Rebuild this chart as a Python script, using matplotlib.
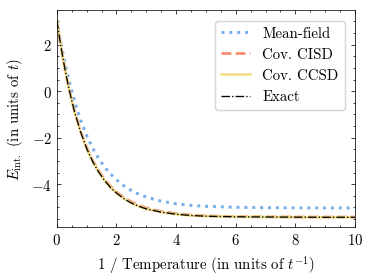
import matplotlib

matplotlib.use("Agg")
import matplotlib.pyplot as plt
import numpy as np

# inverse temperature grid (units of 1/t)
beta = [0.0, 0.1, 0.2, 0.3, 0.4, 0.5, 0.6, 0.8, 1.0, 1.2, 1.4, 1.6, 1.8, 2.0,
        2.25, 2.5, 2.75, 3.0, 3.5, 4.0, 4.5, 5.0, 6.0, 7.0, 8.0, 9.0, 10.0]

e_mean_field = [3.05, 2.32, 1.65, 1.05, 0.50, 0.00, -0.46, -1.25, -1.90, -2.44,
                -2.89, -3.26, -3.56, -3.81, -4.07, -4.27, -4.43, -4.55, -4.73,
                -4.84, -4.91, -4.95, -4.99, -5.01, -5.015, -5.02, -5.02]

e_cisd = [3.05, 2.21, 1.45, 0.77, 0.16, -0.39, -0.89, -1.73, -2.42, -2.97,
          -3.42, -3.79, -4.09, -4.33, -4.57, -4.76, -4.91, -5.02, -5.17,
          -5.26, -5.32, -5.36, -5.39, -5.40, -5.41, -5.41, -5.41]

e_ccsd = [3.05, 2.21, 1.45, 0.76, 0.15, -0.41, -0.91, -1.76, -2.46, -3.02,
          -3.47, -3.84, -4.14, -4.38, -4.62, -4.81, -4.95, -5.06, -5.20,
          -5.29, -5.345, -5.375, -5.40, -5.41, -5.415, -5.42, -5.42]

e_exact = [3.05, 2.21, 1.45, 0.76, 0.15, -0.41, -0.91, -1.76, -2.46, -3.02,
           -3.47, -3.84, -4.14, -4.38, -4.62, -4.81, -4.95, -5.06, -5.20,
           -5.29, -5.345, -5.375, -5.40, -5.41, -5.415, -5.42, -5.42]

plt.rcParams.update({
    "font.family": "serif",
    "font.serif": ["cmr10"],
    "mathtext.fontset": "cm",
    "axes.formatter.use_mathtext": True,
    "font.size": 10,
    "axes.linewidth": 0.5,
    "xtick.direction": "in",
    "ytick.direction": "in",
    "xtick.top": True,
    "ytick.right": True,
    "xtick.major.size": 3,
    "ytick.major.size": 3,
    "xtick.minor.size": 1.5,
    "ytick.minor.size": 1.5,
    "xtick.major.width": 0.5,
    "ytick.major.width": 0.5,
    "xtick.minor.width": 0.5,
    "ytick.minor.width": 0.5,
    "xtick.minor.visible": True,
    "ytick.minor.visible": True,
})

fig = plt.figure(figsize=(3.5, 2.626), dpi=106.86)
ax = fig.add_axes([0.152, 0.188, 0.797, 0.773])

ax.plot(beta, e_mean_field, ls=":", lw=2.0, color="#78aeea", label="Mean-field")
ax.plot(beta, e_cisd, ls="--", lw=1.8, color="#f58d6a", label="Cov. CISD")
ax.plot(beta, e_ccsd, ls="-", lw=1.8, color="#f3de8c", label="Cov. CCSD")
ax.plot(beta, e_exact, ls="-.", lw=0.9, color="black", label="Exact")

ax.set_xlim(0, 10)
ax.set_ylim(-5.85, 3.48)
ax.set_xticks([0, 2, 4, 6, 8, 10])
ax.set_yticks([2, 0, -2, -4])
ax.xaxis.set_minor_locator(matplotlib.ticker.MultipleLocator(0.5))
ax.yaxis.set_minor_locator(matplotlib.ticker.MultipleLocator(0.5))

ax.set_xlabel(r"1 / Temperature (in units of $t^{-1}$)")
ax.set_ylabel(r"$E_{\mathrm{int.}}$ (in units of $t$)")
ax.legend(loc="upper right", handlelength=2.0, borderaxespad=0.7)

fig.savefig("out.png", dpi=106.86)
